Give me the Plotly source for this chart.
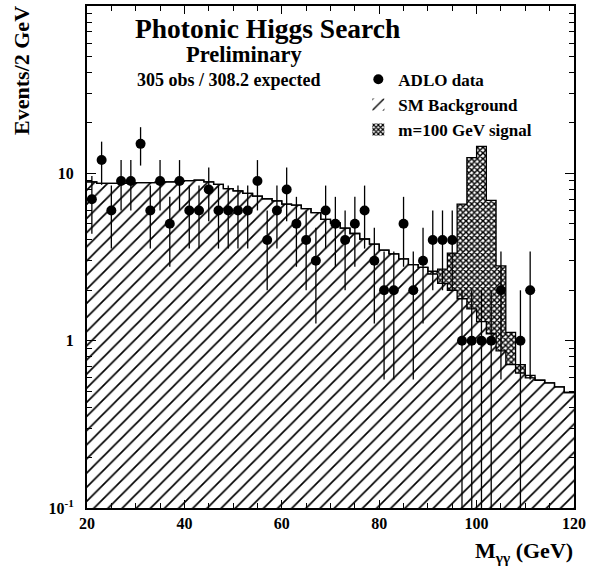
import numpy as np
import plotly.graph_objects as go

# 2 GeV bins from 20 to 120 GeV
bin_edges = np.arange(20, 122, 2)
bin_centers = (bin_edges[:-1] + bin_edges[1:]) / 2

# Observed diphoton events per bin (ADLO combined)
data_counts = [7, 12, 6, 9, 9, 15, 6, 9, 5, 9,
               6, 6, 8, 6, 6, 6, 6, 9, 4, 6,
               8, 5, 4, 3, 6, 5, 4, 5, 6, 3,
               2, 2, 5, 2, 3, 4, 4, 4, 1, 1,
               1, 1, 2, 0, 1, 2, 0, 0, 0, 0]

# Expected Standard Model background per bin
sm_background = [8.9, 8.7, 8.7, 8.7, 8.75, 8.8, 8.8, 8.85, 8.9, 8.95,
                 9.05, 9.1, 8.9, 8.6, 8.1, 7.85, 7.6, 7.3, 7.05, 6.85,
                 6.55, 6.45, 6.15, 5.83, 5.3, 5.05, 4.7, 4.37, 4.05, 3.78,
                 3.48, 3.3, 3.08, 2.85, 2.74, 2.5, 2.2, 2.0, 1.78, 1.55,
                 1.3, 1.1, 0.87, 0.72, 0.64, 0.6, 0.58, 0.56, 0.53, 0.49]

# Expected signal for a 100 GeV Higgs, per bin
signal_100 = [0] * 35 + [0.1, 0.48, 1.34, 4.76, 10.85, 13.2, 5.8, 1.93, 0.4, 0.08, 0.02] + [0] * 4

x_tick_vals = [20, 40, 60, 80, 100, 120]
x_tick_text = ["20", "40", "60", "80", "100", "120"]
y_tick_vals = [0.1, 1, 10]
y_tick_text = ["10<sup>-1</sup>", "1", "10"]

counts = np.array(data_counts, dtype=float)
bkg = np.array(sm_background)
sig = np.array(signal_100, dtype=float)
total = bkg + sig

# Geometry of the frame in pixels
W, H = 590, 569
L, R, T, B = 87, 13, 4, 61
pw, ph = W - L - R, H - T - B


def px(x):
    return (x - L) / pw


def py(y):
    return (H - B - y) / ph


def bold(labels):
    return ["<b>%s</b>" % s for s in labels]


SERIF = "Liberation Serif"
fig = go.Figure()

# SM background histogram (hatched)
fig.add_trace(go.Bar(
    x=bin_centers, y=bkg, width=2, name="<b>SM Background</b>",
    marker=dict(color="white", line=dict(width=0),
                pattern=dict(shape="/", fgcolor="black", bgcolor="white",
                             size=10, solidity=0.17, fgopacity=1)),
    legendrank=2,
))

# Signal stacked on the background (cross-hatched)
fig.add_trace(go.Bar(
    x=bin_centers, y=sig, base=bkg, width=2, name="<b>m=100 GeV signal</b>",
    marker=dict(color="white", line=dict(width=0),
                pattern=dict(shape="x", fgcolor="black", bgcolor="white",
                             size=4, solidity=0.6, fgopacity=1)),
    legendrank=3,
))

# Step outlines of the histograms
step_x = bin_edges
fig.add_trace(go.Scatter(
    x=step_x, y=np.append(bkg, bkg[-1]), mode="lines", line_shape="hv",
    line=dict(color="black", width=1.3), showlegend=False, hoverinfo="skip",
))
fig.add_trace(go.Scatter(
    x=step_x, y=np.append(total, total[-1]), mode="lines", line_shape="hv",
    line=dict(color="black", width=1.3), showlegend=False, hoverinfo="skip",
))

# Data points with Poisson errors (bins with no events are not drawn)
mask = counts > 0
n = counts[mask]
err = np.sqrt(n)
err_lo = n - np.maximum(n - err, 0.1)
fig.add_trace(go.Scatter(
    x=bin_centers[mask], y=n, mode="markers", name="<b>ADLO data</b>",
    marker=dict(symbol="circle", size=10, color="black"),
    error_y=dict(type="data", array=err, arrayminus=err_lo, symmetric=False,
                 color="black", thickness=1.3, width=0),
    legendrank=1,
))

tickfont = dict(family=SERIF, size=16, color="black")

fig.update_layout(
    width=W, height=H,
    margin=dict(l=L, r=R, t=T, b=B),
    paper_bgcolor="white", plot_bgcolor="white",
    barmode="overlay", bargap=0,
    font=dict(family=SERIF, color="black"),
    showlegend=True,
    legend=dict(
        x=px(360), y=py(60), xanchor="left", yanchor="top",
        bgcolor="rgba(0,0,0,0)", borderwidth=0,
        font=dict(family=SERIF, size=17, color="black"),
        itemwidth=30, tracegroupgap=0,
    ),
    xaxis=dict(
        range=[20, 120], tickvals=x_tick_vals, ticktext=bold(x_tick_text),
        ticks="inside", ticklen=8,
        tickwidth=1, tickcolor="black", showline=True, linewidth=2,
        linecolor="black", mirror="ticks", showgrid=False, zeroline=False,
        tickfont=tickfont,
        minor=dict(ticks="inside", ticklen=5, dtick=5, tickcolor="black",
                   showgrid=False),
    ),
    yaxis=dict(
        type="log", range=[-1, 2], tickvals=y_tick_vals,
        ticktext=bold(y_tick_text),
        ticks="inside", ticklen=9, tickwidth=1, tickcolor="black",
        showline=True, linewidth=2, linecolor="black", mirror="ticks",
        showgrid=False, zeroline=False, tickfont=tickfont,
        ticklabelstandoff=8,
        minor=dict(ticks="inside", ticklen=5, tickcolor="black", showgrid=False,
                   tickvals=[m * d for d in (0.1, 1, 10) for m in range(2, 10)]),
    ),
)

annotations = [
    dict(text="<b>Photonic Higgs Search</b>", x=px(269), y=py(9),
         font=dict(size=27.5)),
    dict(text="<b>Preliminary</b>", x=px(245), y=py(38), font=dict(size=22.5)),
    dict(text="<b>305 obs / 308.2 expected</b>", x=px(230), y=py(66),
         font=dict(size=18)),
]
for a in annotations:
    a.update(xref="paper", yref="paper", xanchor="center", yanchor="top",
             showarrow=False)
    a["font"].update(family=SERIF, color="black")
    fig.add_annotation(**a)

# Axis titles
fig.add_annotation(
    text="<b>Events/2 GeV</b>", textangle=-90, xref="paper", yref="paper",
    x=px(21), y=py(2), xanchor="center", yanchor="top", showarrow=False,
    font=dict(family=SERIF, size=22, color="black"),
)
fig.add_annotation(
    text="<b>M<sub>γγ</sub> (GeV)</b>", xref="paper", yref="paper",
    x=px(578), y=py(536), xanchor="right", yanchor="top", showarrow=False,
    font=dict(family=SERIF, size=22, color="black"),
)

fig.write_html("out.html")
